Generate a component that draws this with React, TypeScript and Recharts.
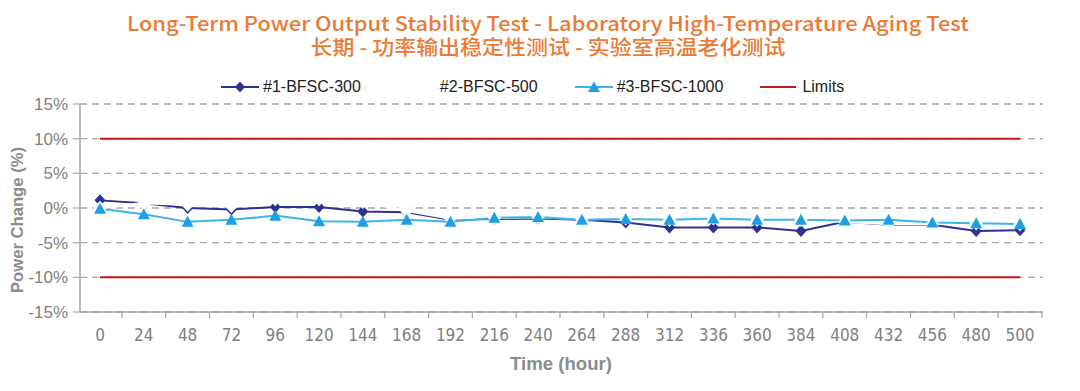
import React from 'react';
import { LineChart, Line, XAxis, YAxis, CartesianGrid } from 'recharts';

const hours = ['0', '24', '48', '72', '96', '120', '144', '168', '192', '216', '240', '264', '288', '312', '336', '360', '384', '408', '432', '456', '480', '500'];
const bfsc300 = [1.1, 0.7, 0.0, -0.2, 0.15, 0.15, -0.5, -0.6, -1.7, -1.6, -1.5, -1.7, -2.1, -2.8, -2.8, -2.8, -3.3, -2.0, -2.4, -2.4, -3.3, -3.2];
const bfsc500 = [0.0, 0.7, 0.5, 0.3, 1.3, 1.3, 0.9, -0.4, -1.5, -1.4, -1.3, -1.6, -1.5, -1.7, -1.5, -1.7, -1.7, -2.0, -2.3, -2.3, -2.2, -2.3];
const bfsc1000 = [-0.1, -0.9, -2.0, -1.7, -1.1, -1.9, -2.0, -1.7, -2.0, -1.4, -1.3, -1.7, -1.6, -1.7, -1.5, -1.7, -1.7, -1.8, -1.7, -2.1, -2.2, -2.3];
const limitHigh = [10, 10, 10, 10, 10, 10, 10, 10, 10, 10, 10, 10, 10, 10, 10, 10, 10, 10, 10, 10, 10, 10];
const limitLow = [-10, -10, -10, -10, -10, -10, -10, -10, -10, -10, -10, -10, -10, -10, -10, -10, -10, -10, -10, -10, -10, -10];
const yTicks = [-15, -10, -5, 0, 5, 10, 15];

const seriesNames = ['#1-BFSC-300', '#2-BFSC-500', '#3-BFSC-1000', 'Limits'];
const titleEn = 'Long-Term Power Output Stability Test - Laboratory High-Temperature Aging Test';
const titleZh = '长期 - 功率输出稳定性测试 - 实验室高温老化测试';

const data = hours.map((h, i) => ({
  hour: h,
  s1: bfsc300[i],
  s2: bfsc500[i],
  s3: bfsc1000[i],
  hi: limitHigh[i],
  lo: limitLow[i],
}));

const NAVY = '#2E3192';
const CYAN_LINE = '#3DB4EA';
const CYAN_MARK = '#1C9FE3';
const RED = '#C8161D';
const GRID = '#a6a6a6';
const TICK = '#7f7f7f';
const BAND = 43.8;

const makeDiamond = (fill: string, hw: number, hh: number) => (props: any) => {
  const { cx, cy, index } = props;
  if (cx == null || cy == null) return <g key={`n-${fill}-${index}`} />;
  return (
    <polygon
      key={`d-${fill}-${index}`}
      points={`${cx},${cy - hh} ${cx + hw},${cy} ${cx},${cy + hh} ${cx - hw},${cy}`}
      fill={fill}
    />
  );
};

const Triangle = (props: any) => {
  const { cx, cy, index } = props;
  if (cx == null || cy == null) return <g key={`tn-${index}`} />;
  return (
    <polygon
      key={`t-${index}`}
      points={`${cx},${cy - 6} ${cx + 6},${cy + 5} ${cx - 6},${cy + 5}`}
      fill={CYAN_MARK}
    />
  );
};

const XTick = (props: any) => {
  const { x, y, payload } = props;
  return (
    <g>
      <line x1={x + BAND / 2} x2={x + BAND / 2} y1={y - 8} y2={y - 2} stroke={GRID} strokeWidth={1.2} />
      <text
        x={x}
        y={y}
        dy={21}
        textAnchor="middle"
        fill={TICK}
        fontSize={17}
        fontFamily="'Liberation Sans Narrow', 'DejaVu Sans Condensed', 'Liberation Sans', Arial, sans-serif"
      >
        {payload.value}
      </text>
    </g>
  );
};

const LegendItem = ({ kind, label }: { kind: number; label: string }) => {
  return (
    <div style={{ display: 'flex', alignItems: 'center', marginRight: 37 }}>
      <svg width={38} height={14} style={{ marginRight: 4 }}>
        {kind === 0 && (
          <g>
            <line x1={0} x2={38} y1={7} y2={7} stroke={NAVY} strokeWidth={2} />
            <polygon points="19,1.5 24,7 19,12.5 14,7" fill={NAVY} />
          </g>
        )}
        {kind === 2 && (
          <g>
            <line x1={0} x2={38} y1={7} y2={7} stroke={CYAN_LINE} strokeWidth={2} />
            <polygon points="19,1.5 25,12 13,12" fill={CYAN_MARK} />
          </g>
        )}
        {kind === 3 && <line x1={0} x2={36} y1={7} y2={7} stroke={RED} strokeWidth={2} />}
      </svg>
      <span>{label}</span>
    </div>
  );
};

export default function App() {
  return (
    <div style={{ position: 'absolute', left: 0, top: 0, width: 1080, height: 391, background: '#fff', overflow: 'hidden' }}>
      <LineChart width={1080} height={391} data={data} margin={{ top: 104, right: 37, bottom: 0, left: 0 }}>
        <CartesianGrid vertical={false} stroke={GRID} strokeDasharray="7 5" strokeWidth={1.3} />
        <XAxis
          dataKey="hour"
          interval={0}
          padding={{ left: 20, right: 23 }}
          tickLine={false}
          axisLine={{ stroke: GRID, strokeWidth: 1.5 }}
          height={79}
          tick={<XTick />}
        />
        <YAxis
          domain={[-15, 15]}
          ticks={yTicks}
          interval={0}
          width={80}
          tickSize={7}
          tickMargin={5}
          tickFormatter={(v: number) => `${v}%`}
          axisLine={{ stroke: GRID, strokeWidth: 1.5 }}
          tickLine={{ stroke: GRID, strokeWidth: 1.2 }}
          tick={{ fill: TICK, fontSize: 17, fontFamily: "'Liberation Sans', Arial, sans-serif" }}
        />
        <Line dataKey="hi" stroke={RED} strokeWidth={2} dot={false} activeDot={false} isAnimationActive={false} />
        <Line dataKey="lo" stroke={RED} strokeWidth={2} dot={false} activeDot={false} isAnimationActive={false} />
        <Line dataKey="s1" stroke={NAVY} strokeWidth={2} dot={makeDiamond(NAVY, 5.5, 6)} activeDot={false} isAnimationActive={false} />
        <Line dataKey="s2" stroke="#ffffff" strokeWidth={2.5} dot={makeDiamond('#ffffff', 6.8, 7.2)} activeDot={false} isAnimationActive={false} />
        <Line dataKey="s3" stroke={CYAN_LINE} strokeWidth={2} dot={Triangle} activeDot={false} isAnimationActive={false} />
      </LineChart>

      <svg width={1080} height={391} style={{ position: 'absolute', left: 0, top: 0, pointerEvents: 'none' }}>
        <text
          x={548}
          y={31}
          textAnchor="middle"
          fontSize={20}
          fontWeight={500}
          fill="#EC7A35"
          fontFamily="'Noto Sans CJK SC', 'Noto Sans', sans-serif"
          textLength={842}
          lengthAdjust="spacingAndGlyphs"
        >
          {titleEn}
        </text>
        <text
          x={548}
          y={55}
          textAnchor="middle"
          fontSize={20}
          fontWeight={500}
          fill="#EC7A35"
          fontFamily="'Noto Sans CJK SC', sans-serif"
          textLength={475}
          lengthAdjust="spacingAndGlyphs"
        >
          {titleZh}
        </text>
        <text
          transform="translate(23,220) rotate(-90)"
          textAnchor="middle"
          fontSize={17}
          fontWeight={700}
          fill="#8c8c8c"
          fontFamily="'Liberation Sans', Arial, sans-serif"
          textLength={146}
          lengthAdjust="spacingAndGlyphs"
        >
          Power Change (%)
        </text>
        <text
          x={561}
          y={370}
          textAnchor="middle"
          fontSize={18}
          fontWeight={700}
          fill="#8c8c8c"
          fontFamily="'Liberation Sans', Arial, sans-serif"
          textLength={102}
          lengthAdjust="spacingAndGlyphs"
        >
          Time (hour)
        </text>
      </svg>

      <div
        style={{
          position: 'absolute',
          left: 221,
          top: 78,
          display: 'flex',
          alignItems: 'center',
          fontFamily: "'Liberation Sans', Arial, sans-serif",
          fontSize: 16,
          color: '#222',
          whiteSpace: 'nowrap',
          lineHeight: '18px',
        }}
      >
        {seriesNames.map((n, i) => (
          <LegendItem key={n} kind={i} label={n} />
        ))}
      </div>
    </div>
  );
}
